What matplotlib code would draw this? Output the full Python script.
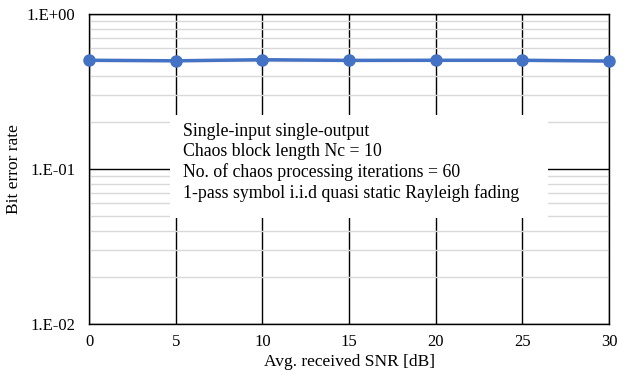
import numpy as np
import matplotlib.pyplot as plt
from matplotlib.patches import Rectangle
from matplotlib.ticker import FixedLocator, LogLocator, NullFormatter

snr_db = [0, 5, 10, 15, 20, 25, 30]
ber = [0.503, 0.499, 0.507, 0.502, 0.503, 0.503, 0.497]
y_ticks = [1e-2, 1e-1, 1e0]
y_labels = ["1.E-02", "1.E-01", "1.E+00"]
note_lines = [
    "Single-input single-output",
    "Chaos block length Nc = 10",
    "No. of chaos processing iterations = 60",
    "1-pass symbol i.i.d quasi static Rayleigh fading",
]


def main():
    plt.rcParams['font.family'] = ['Liberation Serif', 'DejaVu Serif']

    fig = plt.figure(figsize=(6.38, 3.76), dpi=100)
    ax = fig.add_axes([89 / 638, 1 - 324 / 376, 520 / 638, 310 / 376])

    ax.set_yscale('log')
    ax.set_xlim(0, 30)
    ax.set_ylim(1e-2, 1e0)

    # 補助目盛りの薄い格子線
    ax.yaxis.set_minor_locator(LogLocator(base=10, subs=np.arange(2, 10)))
    ax.yaxis.set_minor_formatter(NullFormatter())
    ax.grid(True, which='minor', axis='y', color='#d9d9d9', linewidth=1.0)
    ax.grid(True, which='major', axis='both', color='black', linewidth=1.0)

    ax.xaxis.set_major_locator(FixedLocator(snr_db))
    ax.set_yticks(y_ticks)
    ax.set_yticklabels(y_labels)
    ax.tick_params(which='both', length=0, labelsize=12)
    ax.tick_params(axis='y', pad=10)
    ax.tick_params(axis='x', pad=7)
    ax.set_axisbelow(True)

    for s in ax.spines.values():
        s.set_color('black')
        s.set_linewidth(1.0)

    ax.plot(snr_db, ber, color='#4472C4', linewidth=2.5, marker='o',
            markersize=8, clip_on=False, zorder=5)

    ax.set_xlabel("Avg. received SNR [dB]", fontsize=12.5, labelpad=3)
    ax.set_ylabel("Bit error rate", fontsize=12.5, labelpad=3)

    # 注記の白い背景
    ax.add_patch(Rectangle((0.156, 0.342), 0.727, 0.332, transform=ax.transAxes,
                           facecolor='white', edgecolor='none', zorder=4))
    ax.text(0.181, 0.521, "\n".join(note_lines), transform=ax.transAxes,
            fontsize=12.8, va='center', ha='left', linespacing=1.23, zorder=6)

    fig.savefig('out.png', dpi=100)


if __name__ == "__main__":
    main()
